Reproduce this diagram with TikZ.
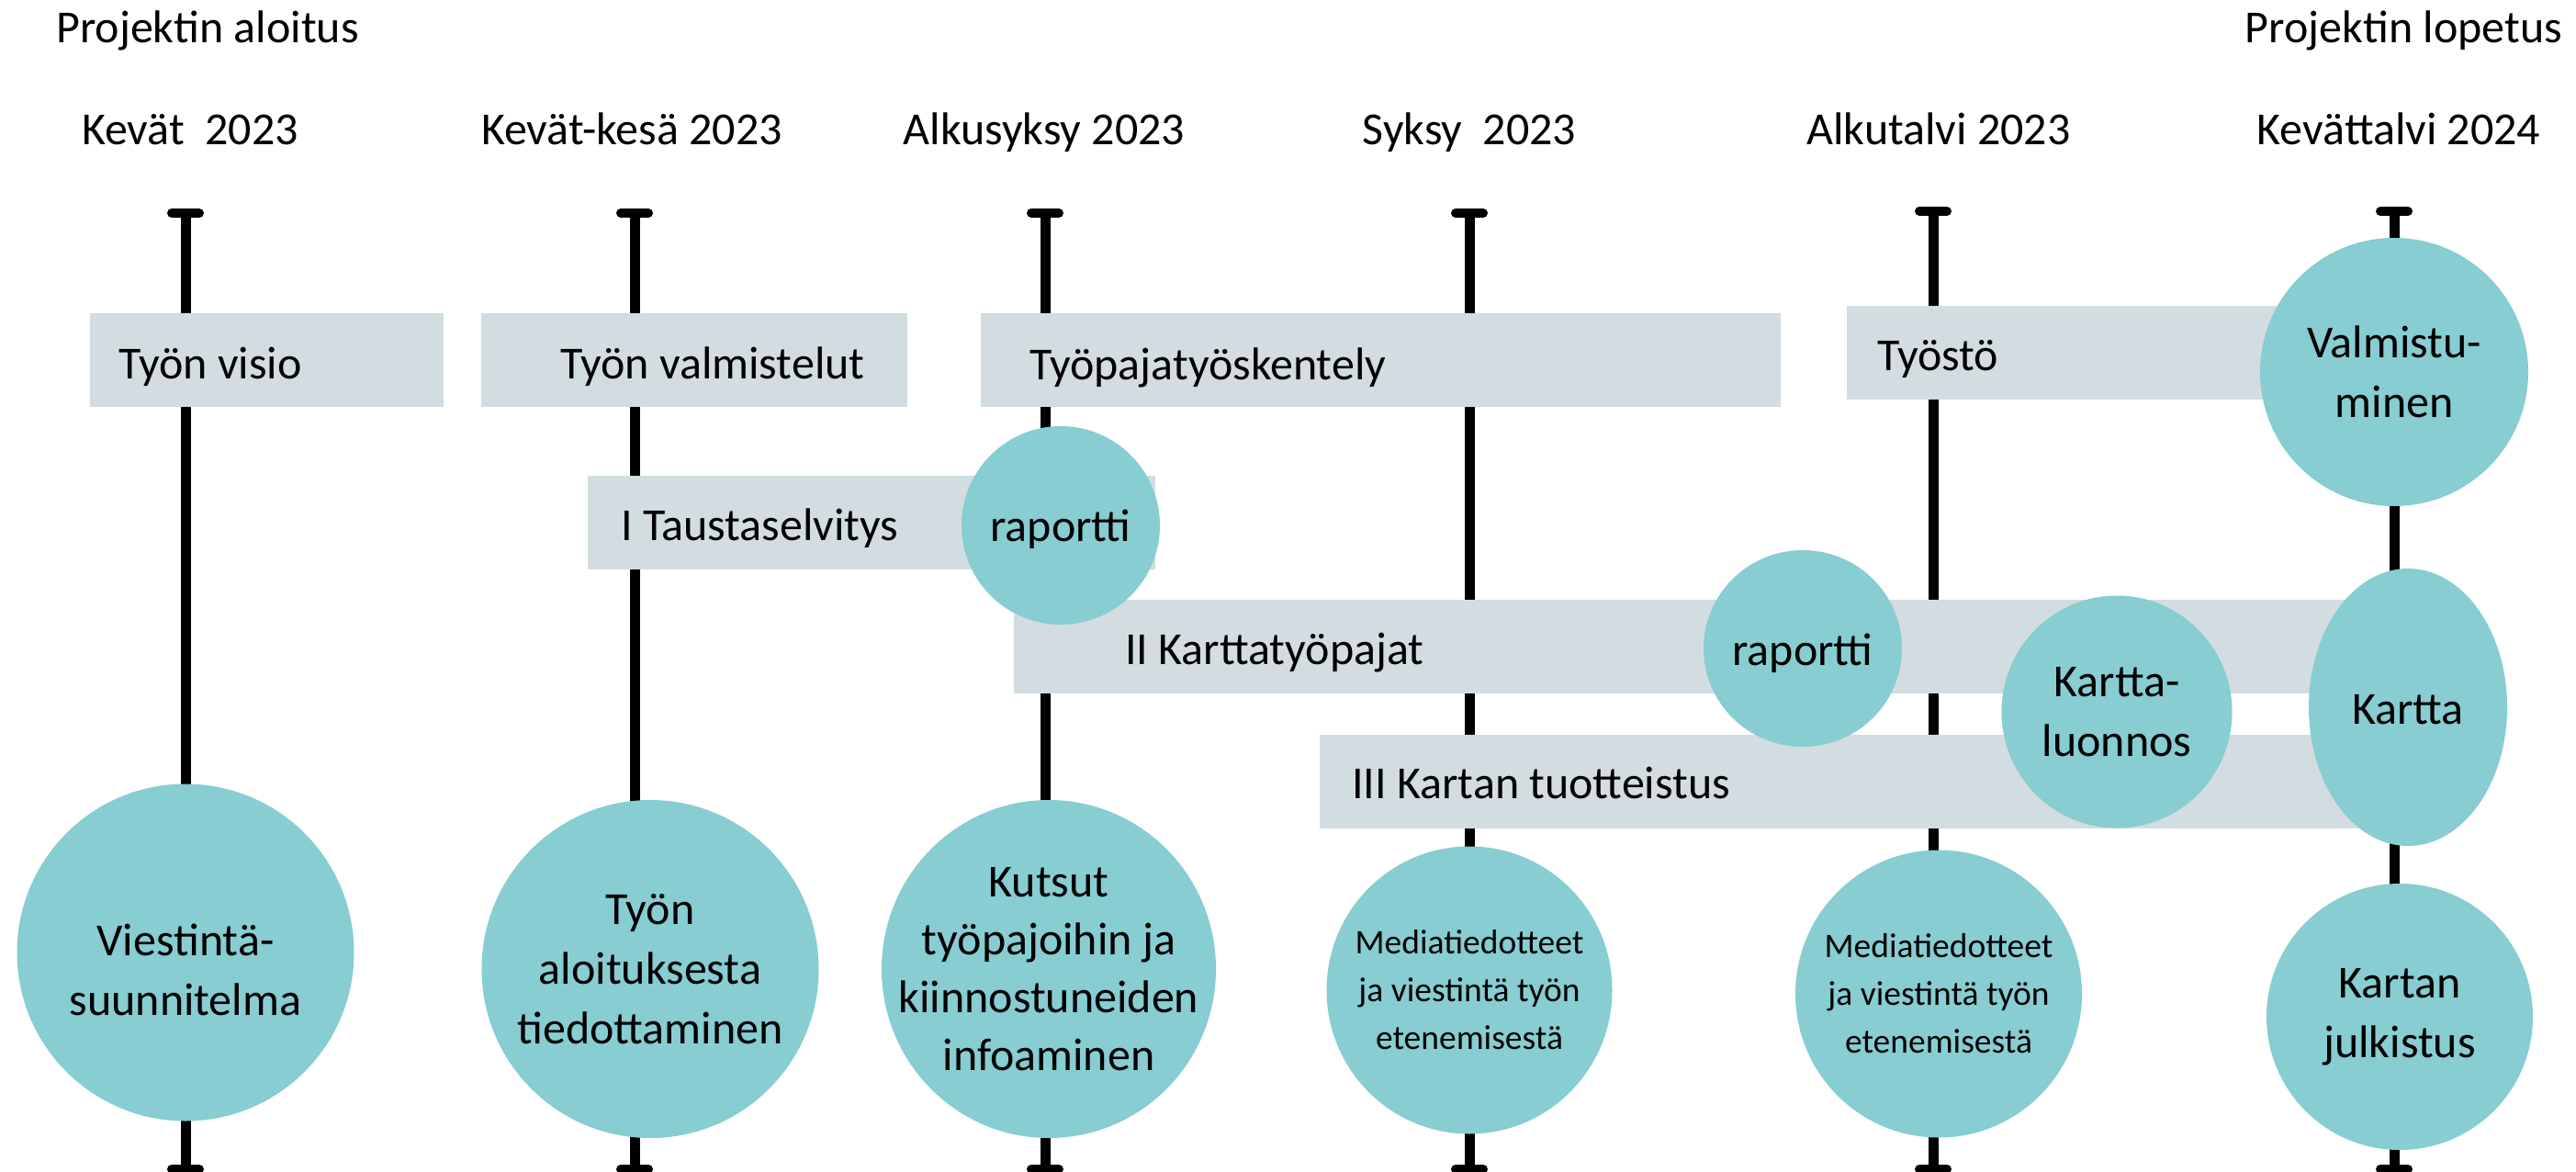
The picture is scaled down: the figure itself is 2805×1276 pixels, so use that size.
\documentclass[tikz,border=0pt]{standalone}
\usepackage{fontspec}
\setmainfont{Carlito}
\usetikzlibrary{shapes.geometric}
\definecolor{boxc}{HTML}{D3DCE1}
\definecolor{circc}{HTML}{87CDD1}
\begin{document}
\begin{tikzpicture}[x=1pt,y=-1pt,
  tl/.style={line width=11pt},
  capl/.style={line width=10pt, line cap=round},
  pbox/.style={rectangle, fill=boxc, draw=none, inner sep=0pt, outer sep=0pt, anchor=north west},
  blob/.style={ellipse, fill=circc, draw=none, inner sep=0pt, outer sep=0pt},
  bigtxt/.style={font=\fontsize{50}{65}\selectfont, inner sep=0pt, align=center},
  smalltxt/.style={font=\fontsize{37.5}{52}\selectfont, inner sep=0pt, align=center},
  lbl/.style={font=\fontsize{50}{60}\selectfont, inner sep=0pt, anchor=base west},
  hdr/.style={font=\fontsize{50}{60}\selectfont, inner sep=0pt, anchor=base},
]
\useasboundingbox (0,0) rectangle (2805,1276);
\fill[white] (0,0) rectangle (2805,1276);

% timeline axes
\foreach \n/\x/\t in {1/202/232, 2/691/232, 3/1138/232, 4/1600/232, 5/2105/230, 6/2607/230}{
  \coordinate (top\n) at (\x,\t);
  \coordinate (bot\n) at (\x,1273);
  \draw[tl] (top\n) -- (bot\n);
  \draw[capl] ([xshift=-15pt]top\n) -- ([xshift=15pt]top\n);
  \draw[capl] ([xshift=-15pt]bot\n) -- ([xshift=15pt]bot\n);
}

% headers
\node[hdr, anchor=base west] (hStart) at (61,47) {Projektin aloitus};
\node[hdr, anchor=base east] (hEnd) at (2790,47) {Projektin lopetus};
\node[hdr] (d1) at (207,158) {Kevät\ \ 2023};
\node[hdr] (d2) at (688,158) {Kevät-kesä 2023};
\node[hdr] (d3) at (1137,158) {Alkusyksy 2023};
\node[hdr] (d4) at (1600,158) {Syksy\ \ 2023};
\node[hdr] (d5) at (2111,158) {Alkutalvi 2023};
\node[hdr] (d6) at (2612,158) {Kevättalvi 2024};

% phase boxes
\node[pbox, minimum width=385pt, minimum height=102pt] (bVisio) at (98,341) {};
\node[pbox, minimum width=464pt, minimum height=102pt] (bValm) at (524,341) {};
\node[pbox, minimum width=871pt, minimum height=102pt] (bPaja) at (1068,341) {};
\node[pbox, minimum width=549pt, minimum height=102pt] (bTyosto) at (2011,333) {};
\node[pbox, minimum width=618pt, minimum height=102pt] (bTausta) at (640,518) {};
\node[pbox, minimum width=1486pt, minimum height=102pt] (bKtp) at (1104,653) {};
\node[pbox, minimum width=1153pt, minimum height=102pt] (bTuote) at (1437,800) {};

\node[lbl] (tVisio) at (129,412) {Työn visio};
\node[lbl] (tValm) at (610,412) {Työn valmistelut};
\node[lbl] (tPaja) at (1121,413) {Työpajatyöskentely};
\node[lbl] (tTyosto) at (2044,403) {Työstö};
\node[lbl] (tTausta) at (676,588) {I Taustaselvitys};
\node[lbl] (tKtp) at (1225,723) {II Karttatyöpajat};
\node[lbl] (tTuote) at (1472,869) {III Kartan tuotteistus};

% milestones
\node[blob, minimum width=216pt, minimum height=216pt] (cRap1) at (1155,572) {};
\node[blob, minimum width=216pt, minimum height=214pt] (cRap2) at (1963,706) {};
\node[blob, minimum width=251pt, minimum height=253pt] (cLuon) at (2305,775) {};
\node[blob, minimum width=216pt, minimum height=302pt] (cKartta) at (2622,770) {};
\node[blob, minimum width=292pt, minimum height=292pt] (cValm) at (2607,405) {};
\node[blob, minimum width=290pt, minimum height=290pt] (cJulk) at (2613,1107) {};
\node[blob, minimum width=311pt, minimum height=313pt] (cMed1) at (1600,1078) {};
\node[blob, minimum width=312pt, minimum height=313pt] (cMed2) at (2111,1082) {};
\node[blob, minimum width=364pt, minimum height=368pt] (cKuts) at (1142,1055) {};
\node[blob, minimum width=367pt, minimum height=368pt] (cAlo) at (708,1055) {};
\node[blob, minimum width=367pt, minimum height=367pt] (cViest) at (202,1037) {};

\node[lbl, anchor=base] (xRap1) at (1155,589) {raportti};
\node[lbl, anchor=base] (xRap2) at (1963,724) {raportti};
\node[lbl, anchor=base] (xKartta) at (2622,788) {Kartta};
\node[bigtxt] (xLuon) at (cLuon) {Kartta-\\luonnos};
\node[bigtxt] (xValm) at (cValm) {Valmistu-\\minen};
\node[bigtxt] (xJulk) at (cJulk) {Kartan\\julkistus};
\node[smalltxt] (xMed1) at (cMed1) {Mediatiedotteet\\ja viestintä työn\\etenemisestä};
\node[smalltxt] (xMed2) at (cMed2) {Mediatiedotteet\\ja viestintä työn\\etenemisestä};
\node[bigtxt, font=\fontsize{50}{63}\selectfont] (xKuts) at (cKuts) {Kutsut\\työpajoihin ja\\kiinnostuneiden\\infoaminen};
\node[bigtxt] (xAlo) at (cAlo) {Työn\\aloituksesta\\tiedottaminen};
\node[bigtxt] (xViest) at ([yshift=-19pt]cViest) {Viestintä-\\suunnitelma};
\end{tikzpicture}
\end{document}
